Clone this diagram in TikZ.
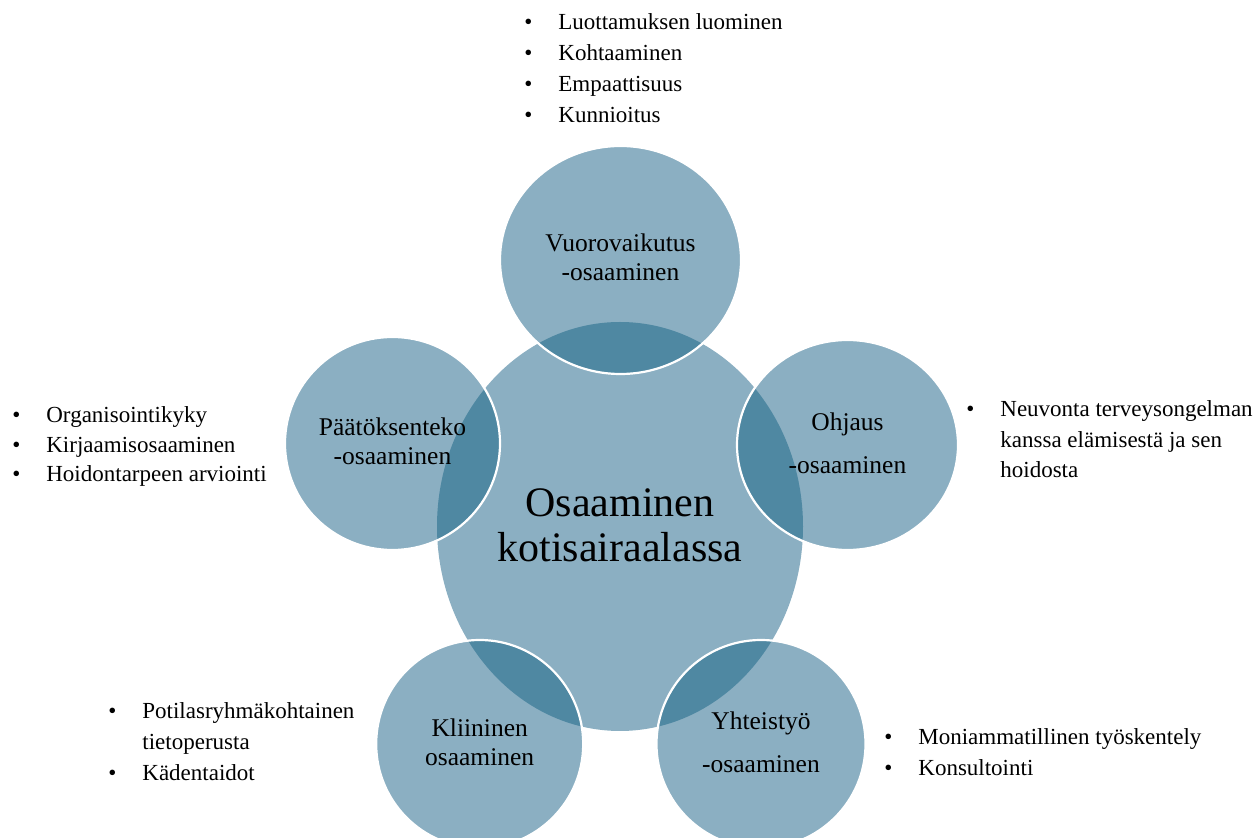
\documentclass[tikz,border=0pt]{standalone}
\usepackage{fontspec}
\setmainfont{Liberation Serif}
\definecolor{lightc}{HTML}{8BAFC2}
\definecolor{darkc}{HTML}{4F88A2}
\newcommand\blist[2]{{\renewcommand\arraystretch{1}\fontsize{11.5}{#1}\selectfont\begin{tabular}[t]{@{}p{17pt}@{}l@{}}#2\end{tabular}}}
\begin{document}
\begin{tikzpicture}[x=0.5pt,y=-0.5pt,
  ring/.style={draw=white,line width=1.1pt},
  lbl/.style={anchor=base,inner sep=0pt,font=\fontsize{12.75}{14.5}\selectfont},
  big/.style={anchor=base,inner sep=0pt,font=\fontsize{21}{22.5}\selectfont},
  lst/.style={anchor=base west,inner sep=0pt}]
\useasboundingbox (0,0) rectangle (1259,838);
\begin{scope}
\clip (0,0) rectangle (1259,838);
% centres
\coordinate (cC) at (620,526.5);
\coordinate (cV) at (620.5,260);
\coordinate (cP) at (392.5,443.5);
\coordinate (cO) at (847.5,445);
\coordinate (cK) at (479.7,744);
\coordinate (cY) at (761,744);
\def\central{(cC) ellipse [x radius=183, y radius=204.5]}
\def\sV{(cV) ellipse [x radius=120.5, y radius=114]}
\def\sP{(cP) ellipse [x radius=107.5, y radius=106.5]}
\def\sO{(cO) ellipse [x radius=110.5, y radius=105]}
\def\sK{(cK) ellipse [x radius=103.5, y radius=104]}
\def\sY{(cY) ellipse [x radius=104.5, y radius=104]}
\fill[lightc] \central;
\foreach \s in {\sV,\sP,\sO,\sK,\sY}{\fill[lightc] \s;}
\begin{scope}
\clip \central;
\foreach \s in {\sV,\sP,\sO,\sK,\sY}{\fill[darkc] \s;}
\end{scope}
\foreach \s in {\sV,\sP,\sO,\sK,\sY}{\draw[ring] \s;}
\end{scope}
% labels
\node[big] (c1) at (620,517) {Osaaminen};
\node[big] (c2) at (620,562) {kotisairaalassa};
\node[lbl] (v) at (620.5,252) {\begin{tabular}[t]{@{}c@{}}Vuorovaikutus\\-osaaminen\end{tabular}};
\node[lbl] (p) at (392.5,436) {\begin{tabular}[t]{@{}c@{}}Päätöksenteko\\-osaaminen\end{tabular}};
\node[lbl] (o) at (847.5,431) {\begin{tabular}[t]{@{}c@{}}Ohjaus\\[7pt]-osaaminen\end{tabular}};
\node[lbl] (k) at (479.7,737) {\begin{tabular}[t]{@{}c@{}}Kliininen\\osaaminen\end{tabular}};
\node[lbl] (y) at (761,730) {\begin{tabular}[t]{@{}c@{}}Yhteistyö\\[7pt]-osaaminen\end{tabular}};
% lists
\node[lst] (lv) at (524,30) {\blist{15.5pt}{•&Luottamuksen luominen\\•&Kohtaaminen\\•&Empaattisuus\\•&Kunnioitus}};
\node[lst] (lp) at (12,423) {\blist{14.75pt}{•&Organisointikyky\\•&Kirjaamisosaaminen\\•&Hoidontarpeen arviointi}};
\node[lst] (lo) at (966,417) {\blist{15.25pt}{•&Neuvonta terveysongelman\\&kanssa elämisestä ja sen\\&hoidosta}};
\node[lst] (lk) at (108,719) {\blist{15.5pt}{•&Potilasryhmäkohtainen\\&tietoperusta\\•&Kädentaidot}};
\node[lst] (ly) at (884,745) {\blist{15.5pt}{•&Moniammatillinen työskentely\\•&Konsultointi}};
\end{tikzpicture}
\end{document}
